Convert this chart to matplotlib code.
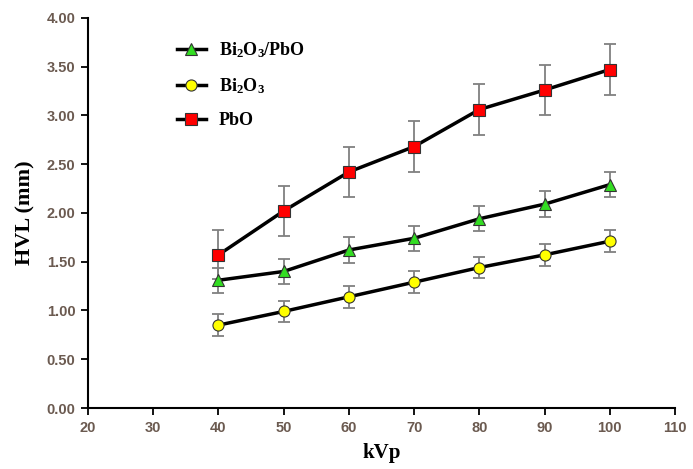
import matplotlib.pyplot as plt
import numpy as np

plt.rcParams['mathtext.fontset'] = 'custom'
plt.rcParams['mathtext.rm'] = 'Liberation Serif:bold'
plt.rcParams['mathtext.it'] = 'Liberation Serif:bold'
plt.rcParams['mathtext.bf'] = 'Liberation Serif:bold'

kvp = [40, 50, 60, 70, 80, 90, 100]
hvl_mix = [1.31, 1.40, 1.62, 1.74, 1.94, 2.09, 2.29]
err_mix = [0.13, 0.13, 0.13, 0.13, 0.13, 0.13, 0.13]
hvl_bi = [0.85, 0.99, 1.14, 1.29, 1.44, 1.57, 1.71]
err_bi = [0.11, 0.11, 0.11, 0.11, 0.11, 0.11, 0.11]
hvl_pbo = [1.57, 2.02, 2.42, 2.68, 3.06, 3.26, 3.47]
err_pbo = [0.25, 0.26, 0.26, 0.26, 0.26, 0.26, 0.26]

series = [
    (r'Bi$_2$O$_3$/PbO', hvl_mix, err_mix, '^', '#33dd22'),
    (r'Bi$_2$O$_3$', hvl_bi, err_bi, 'o', '#ffff00'),
    ('PbO', hvl_pbo, err_pbo, 's', '#ff0000'),
]

fig = plt.figure(figsize=(6.93, 4.69), dpi=100)
ax = fig.add_axes([0.127, 0.130, 0.847, 0.832])

for label, y, e, m, c in series:
    ax.errorbar(kvp, y, yerr=e, fmt='none', ecolor='#808080', elinewidth=1.3,
                capsize=4, capthick=1.3, zorder=2)
    ax.plot(kvp, y, color='black', lw=2.5, marker=m, markersize=8,
            markerfacecolor=c, markeredgecolor='#333333', markeredgewidth=0.8,
            label=label, zorder=3)

ax.set_xlim(20, 110)
ax.set_ylim(0, 4)
ax.set_xticks(np.arange(20, 111, 10))
ax.set_yticks(np.arange(0, 4.01, 0.5))
ax.set_yticklabels(['%.2f' % v for v in np.arange(0, 4.01, 0.5)])

for s in ['top', 'right']:
    ax.spines[s].set_visible(False)
for s in ['left', 'bottom']:
    ax.spines[s].set_linewidth(1.5)
ax.tick_params(direction='out', length=5, width=1.3, labelsize=10.5,
               labelcolor='#6b5a50', pad=4)
for t in ax.get_xticklabels() + ax.get_yticklabels():
    t.set_fontweight('bold')
    t.set_family('Liberation Sans')

ax.set_xlabel('kVp', fontsize=15, fontweight='bold', family='Liberation Serif', labelpad=6)
ax.set_ylabel('HVL (mm)', fontsize=16, fontweight='bold', family='Liberation Serif', labelpad=8)

leg = ax.legend(loc='upper left', bbox_to_anchor=(0.124, 0.985), frameon=False,
                prop={'family': 'Liberation Serif', 'weight': 'bold', 'size': 13},
                handlelength=1.6, handletextpad=0.7, labelspacing=0.9)

fig.savefig('out.png', dpi=100)
